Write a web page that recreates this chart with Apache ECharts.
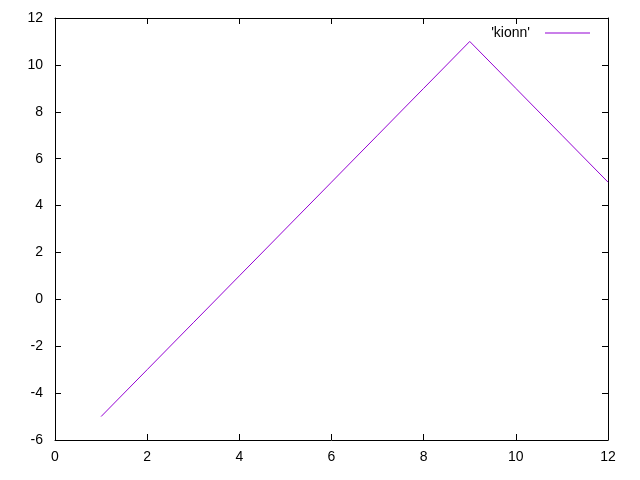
<!DOCTYPE html>
<html><head><meta charset="utf-8">
<script src="https://cdn.jsdelivr.net/npm/echarts@6/dist/echarts.min.js"></script>
<style>html,body{margin:0;padding:0;background:#fff}#c{width:640px;height:480px}</style>
</head><body><div id="c"></div>
<script>
const xValues = [1, 2, 3, 4, 5, 6, 7, 8, 9, 10, 11, 12];
const yValues = [-5, -3, -1, 1, 3, 5, 7, 9, 11, 9, 7, 5];
const seriesName = "'kionn'";
const chart = echarts.init(document.getElementById('c'), null, {renderer: 'canvas'});
const font = {fontFamily: 'Liberation Sans, Arial, sans-serif', fontSize: 14, color: '#000'};
const axisCommon = {
  axisLine: {show: true, onZero: false, lineStyle: {color: '#000', width: 1}},
  axisTick: {show: true, inside: true, length: 6, lineStyle: {color: '#000'}},
  splitLine: {show: false}
};
chart.setOption({
  animation: false,
  grid: {left: 55, right: 32, top: 18, bottom: 40},
  legend: {
    show: true, right: 50, top: 26, padding: 0, align: 'right', itemWidth: 45, itemHeight: 14, itemGap: 10,
    textStyle: Object.assign({}, font, {padding: [0, 10, 0, 0]}),
    data: [{name: seriesName, icon: 'path://M0,7L45,7L45,8L0,8Z'}]
  },
  xAxis: [
    Object.assign({type: 'value', min: 0, max: 12, interval: 2, position: 'bottom',
      axisLabel: Object.assign({margin: 10}, font)}, axisCommon),
    Object.assign({type: 'value', min: 0, max: 12, interval: 2, position: 'top',
      axisLabel: {show: false}}, axisCommon)
  ],
  yAxis: [
    Object.assign({type: 'value', min: -6, max: 12, interval: 2, position: 'left',
      axisLabel: Object.assign({margin: 12}, font)}, axisCommon),
    Object.assign({type: 'value', min: -6, max: 12, interval: 2, position: 'right',
      axisLabel: {show: false}}, axisCommon)
  ],
  series: [{
    name: seriesName, type: 'line', xAxisIndex: 0, yAxisIndex: 0,
    data: xValues.map((x, i) => [x, yValues[i]]),
    symbol: 'none', showSymbol: false,
    lineStyle: {color: '#9400d3', width: 1},
    itemStyle: {color: '#9400d3'}
  }]
});
</script></body></html>
